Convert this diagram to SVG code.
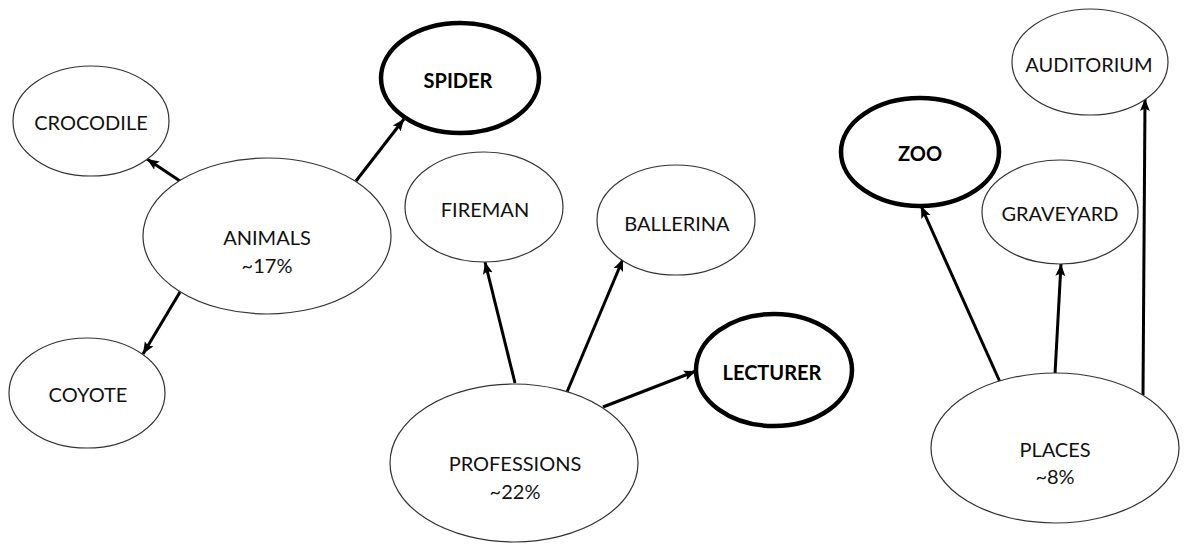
<svg xmlns="http://www.w3.org/2000/svg" width="1187" height="550" viewBox="0 0 1187 550">
<style>
.n{fill:#fff;stroke:#333;stroke-width:1.2}
.b{fill:#fff;stroke:#000;stroke-width:4.5}
.t{font-family:Lato,"Open Sans",sans-serif;font-size:20px;fill:#111;text-anchor:middle;dominant-baseline:central}
.tb{font-weight:bold;fill:#000}
.c{stroke:#000;stroke-width:3;fill:none;marker-end:url(#ah)}
</style>
<defs>
<marker id="ah" markerUnits="userSpaceOnUse" markerWidth="13" markerHeight="13" viewBox="0 0 13 13" refX="12" refY="6.5" orient="auto">
<path d="M0,1.5 L12,6.5 L0,11.5 L2.5,6.5 Z" fill="#000"/>
</marker>
</defs>
<rect width="1187" height="550" fill="#fff"/>
<g id="connectors">
<line class="c" x1="180" y1="181" x2="147" y2="159"/>
<line class="c" x1="356" y1="181" x2="404" y2="119"/>
<line class="c" x1="180" y1="292" x2="143" y2="354"/>
<line class="c" x1="515" y1="383" x2="485" y2="262"/>
<line class="c" x1="567" y1="392" x2="623" y2="259"/>
<line class="c" x1="603" y1="407" x2="696" y2="371"/>
<line class="c" x1="1000" y1="382" x2="921" y2="206"/>
<line class="c" x1="1055" y1="374" x2="1061" y2="264"/>
<line class="c" x1="1143" y1="395" x2="1145" y2="99"/>
</g>
<g id="crocodile"><ellipse class="n" cx="91" cy="121" rx="78" ry="55"/><text class="t" x="91" y="122">CROCODILE</text></g>
<g id="spider"><ellipse class="b" cx="460" cy="78" rx="79" ry="55"/><text class="t tb" x="458" y="80">SPIDER</text></g>
<g id="animals"><ellipse class="n" cx="267" cy="236" rx="124" ry="78"/><text class="t" x="267" y="237">ANIMALS</text><text class="t" x="267" y="265">~17%</text></g>
<g id="coyote"><ellipse class="n" cx="87" cy="393" rx="78" ry="55"/><text class="t" x="88" y="394">COYOTE</text></g>
<g id="fireman"><ellipse class="n" cx="484" cy="207" rx="79" ry="55"/><text class="t" x="485" y="209">FIREMAN</text></g>
<g id="ballerina"><ellipse class="n" cx="676" cy="220" rx="79" ry="55"/><text class="t" x="677" y="223">BALLERINA</text></g>
<g id="lecturer"><ellipse class="b" cx="774" cy="370" rx="78" ry="56"/><text class="t tb" x="772" y="372">LECTURER</text></g>
<g id="professions"><ellipse class="n" cx="514" cy="463" rx="124" ry="79"/><text class="t" x="515" y="463">PROFESSIONS</text><text class="t" x="515" y="491">~22%</text></g>
<g id="auditorium"><ellipse class="n" cx="1090" cy="62" rx="78" ry="53"/><text class="t" x="1089" y="64">AUDITORIUM</text></g>
<g id="zoo"><ellipse class="b" cx="920" cy="152" rx="79" ry="54"/><text class="t tb" x="920" y="153">ZOO</text></g>
<g id="graveyard"><ellipse class="n" cx="1060" cy="212" rx="78" ry="52"/><text class="t" x="1060" y="213">GRAVEYARD</text></g>
<g id="places"><ellipse class="n" cx="1055" cy="448" rx="124" ry="75"/><text class="t" x="1055" y="449">PLACES</text><text class="t" x="1055" y="476">~8%</text></g>
</svg>
